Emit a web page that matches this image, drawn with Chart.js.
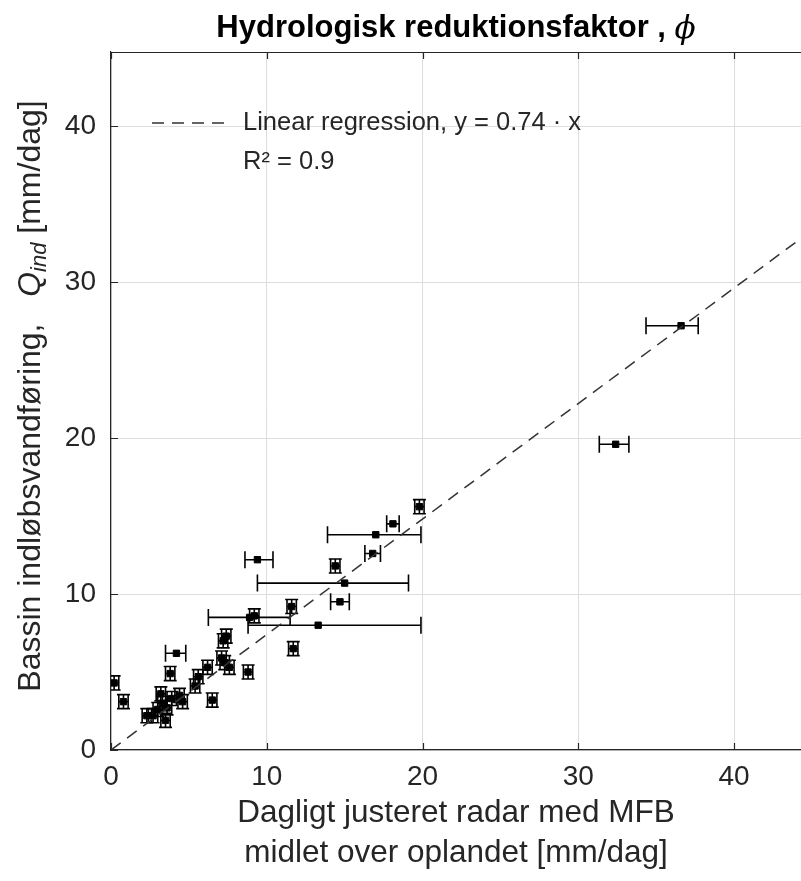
<!DOCTYPE html>
<html>
<head>
<meta charset="utf-8">
<script src="https://cdn.jsdelivr.net/npm/chart.js@4.4.1/dist/chart.umd.min.js"></script>
<style>
  html, body { margin: 0; padding: 0; background: #fff; }
</style>
</head>
<body>
<canvas id="reductionChart" width="801" height="881"></canvas>
<script>
// radar (x) vs inflow (y), mm/dag
const radarMfb = [36.6, 32.4, 19.8, 18.1, 17.0, 16.8, 14.4, 9.4, 15.0, 14.7,
                  11.6, 9.2, 8.9, 13.3, 11.7, 4.2, 0.2, 0.8, 7.2, 7.4,
                  7.1, 7.6, 6.2, 8.8, 5.6, 5.4, 6.5, 4.4, 4.6, 3.8,
                  3.2, 3.9, 2.3, 2.7, 3.0, 3.6, 3.5, 3.3, 7.3];
const inflow   = [27.2, 19.6, 15.6, 14.5, 13.8, 12.6, 11.8, 12.2, 10.7, 9.5,
                  9.2, 8.6, 8.5, 8.0, 6.5, 6.2, 4.3, 3.1, 7.0, 7.3,
                  5.9, 5.3, 5.3, 5.0, 4.7, 4.1, 3.2, 3.5, 3.1, 4.9,
                  3.6, 3.3, 2.2, 2.2, 2.6, 2.7, 1.9, 3.0, 5.6];
// error bar lengths
const radarErrLow  = [2.25, 1.05, 0.3, 0.4, 3.1, 0.5, 0.3, 0.8, 5.6, 0.6,
                      0.3, 0.3, 2.65, 4.5, 0.3, 0.7, 0.3, 0.3, 0.3, 0.3,
                      0.3, 0.3, 0.3, 0.3, 0.3, 0.3, 0.3, 0.3, 0.3, 0.3,
                      0.3, 0.3, 0.3, 0.3, 0.3, 0.3, 0.3, 0.3, 0.3];
const radarErrHigh = [1.1, 0.85, 0.3, 0.4, 2.9, 0.5, 0.3, 1.0, 4.1, 0.6,
                      0.3, 0.3, 2.6, 6.6, 0.3, 0.6, 0.3, 0.3, 0.3, 0.3,
                      0.3, 0.3, 0.3, 0.3, 0.3, 0.3, 0.3, 0.3, 0.3, 0.3,
                      0.3, 0.3, 0.3, 0.3, 0.3, 0.3, 0.3, 0.3, 0.3];
const inflowErr    = [0, 0, 0.45, 0, 0, 0, 0.45, 0, 0, 0,
                      0.45, 0.45, 0, 0, 0.45, 0, 0.45, 0.45, 0.45, 0.45,
                      0.45, 0.45, 0.45, 0.45, 0.45, 0.45, 0.45, 0.45, 0.45, 0.45,
                      0.45, 0.45, 0.45, 0.45, 0.45, 0.45, 0.45, 0.45, 0.45];

// regression line y = 0.74 x
const fitX = [0, 44.3];
const fitY = [0, 32.8];

const xTicks = [0, 10, 20, 30, 40];
const yTicks = [0, 10, 20, 30, 40];

const FONT = "'Liberation Sans', Arial, Helvetica, sans-serif";
const TEXT = "#262626";

/* ---- error bars, drawn under the markers ---- */
const errorBars = {
    id: "errorBars",
    beforeDatasetsDraw(chart) {
        const { ctx, chartArea: a, scales: { x, y } } = chart;
        ctx.save();
        ctx.beginPath();
        ctx.rect(a.left, a.top, a.right - a.left, a.bottom - a.top);
        ctx.clip();
        ctx.strokeStyle = "#000";
        ctx.lineWidth = 1.6;
        radarMfb.forEach((xv, i) => {
            const cap = inflowErr[i] > 0 ? 6.5 : 8.5;
            const px = x.getPixelForValue(xv);
            const py = y.getPixelForValue(inflow[i]);
            const x0 = x.getPixelForValue(xv - radarErrLow[i]);
            const x1 = x.getPixelForValue(xv + radarErrHigh[i]);
            ctx.beginPath();
            ctx.moveTo(x0, py); ctx.lineTo(x1, py);
            ctx.moveTo(x0, py - cap); ctx.lineTo(x0, py + cap);
            ctx.moveTo(x1, py - cap); ctx.lineTo(x1, py + cap);
            if (inflowErr[i] > 0) {
                const y0 = y.getPixelForValue(inflow[i] - inflowErr[i]);
                const y1 = y.getPixelForValue(inflow[i] + inflowErr[i]);
                ctx.moveTo(px, y0); ctx.lineTo(px, y1);
                ctx.moveTo(px - cap, y0); ctx.lineTo(px + cap, y0);
                ctx.moveTo(px - cap, y1); ctx.lineTo(px + cap, y1);
            }
            ctx.stroke();
        });
        ctx.restore();
    }
};

/* ---- box, inward ticks, title, labels, legend ---- */
const decorations = {
    id: "decorations",
    afterDraw(chart) {
        const { ctx, chartArea: a, scales: { x, y } } = chart;
        const tl = 7;
        ctx.save();

        // top edge of the box + inward ticks
        ctx.strokeStyle = TEXT;
        ctx.lineWidth = 1.2;
        ctx.beginPath();
        ctx.moveTo(a.left, a.top + 0.5); ctx.lineTo(a.right, a.top + 0.5);
        xTicks.forEach(v => {
            const px = Math.round(x.getPixelForValue(v)) + 0.5;
            ctx.moveTo(px, a.bottom); ctx.lineTo(px, a.bottom - tl);
            ctx.moveTo(px, a.top); ctx.lineTo(px, a.top + tl);
        });
        yTicks.forEach(v => {
            const py = Math.round(y.getPixelForValue(v)) + 0.5;
            ctx.moveTo(a.left, py); ctx.lineTo(a.left + tl, py);
        });
        ctx.stroke();

        // title
        const cx = (a.left + a.right) / 2;
        const phiFont = "italic 31px 'DejaVu Serif', 'Liberation Serif', serif";
        const titleFont = "bold 31px " + FONT;
        const t1 = "Hydrologisk reduktionsfaktor , ";
        ctx.fillStyle = "#000";
        ctx.textBaseline = "middle";
        ctx.textAlign = "left";
        ctx.font = phiFont;
        const phiW = ctx.measureText("\u03D5").width;
        ctx.font = titleFont;
        const t1W = ctx.measureText(t1).width;
        const tx = cx - (t1W + phiW) / 2;
        ctx.fillText(t1, tx, 28);
        ctx.font = phiFont;
        ctx.fillText("\u03D5", tx + t1W, 30);

        // x label (two lines)
        ctx.fillStyle = TEXT;
        ctx.font = "31.5px " + FONT;
        ctx.textAlign = "center";
        ctx.fillText("Dagligt justeret radar med MFB", cx, 813);
        ctx.fillText("midlet over oplandet [mm/dag]", cx, 853);

        // y label, rotated, with italic Q and subscript
        const cy = (a.top + a.bottom) / 2 - 5;
        const parts = [
            { s: "Bassin indløbsvandføring,   ", f: "32px " + FONT, dy: 0 },
            { s: "Q", f: "italic 32px " + FONT, dy: 0 },
            { s: "ind", f: "italic 22px " + FONT, dy: 9 },
            { s: " [mm/dag]", f: "32px " + FONT, dy: 0 }
        ];
        let total = 0;
        parts.forEach(p => { ctx.font = p.f; p.w = ctx.measureText(p.s).width; total += p.w; });
        ctx.translate(31, cy);
        ctx.rotate(-Math.PI / 2);
        ctx.textAlign = "left";
        let ox = -total / 2;
        parts.forEach(p => {
            ctx.font = p.f;
            ctx.fillText(p.s, ox, p.dy);
            ox += p.w;
        });
        ctx.setTransform(1, 0, 0, 1, 0, 0);

        // legend inside the axes
        ctx.strokeStyle = "#333";
        ctx.lineWidth = 1.5;
        ctx.setLineDash([12, 8]);
        ctx.beginPath();
        ctx.moveTo(152, 123); ctx.lineTo(232, 123);
        ctx.stroke();
        ctx.setLineDash([]);
        ctx.fillStyle = TEXT;
        ctx.font = "25.5px " + FONT;
        ctx.textAlign = "left";
        ctx.fillText("Linear regression, y = 0.74 \u00B7 x", 243, 123);
        ctx.fillText("R\u00B2 = 0.9", 243, 162);

        ctx.restore();
    }
};

new Chart(document.getElementById("reductionChart"), {
    type: "scatter",
    data: {
        datasets: [
            {
                label: "Linear regression",
                type: "line",
                data: fitX.map((v, i) => ({ x: v, y: fitY[i] })),
                borderColor: "#333",
                borderWidth: 1.5,
                borderDash: [12, 8],
                pointRadius: 0,
                fill: false
            },
            {
                label: "Målinger",
                data: radarMfb.map((v, i) => ({ x: v, y: inflow[i] })),
                pointStyle: "rect",
                pointRadius: 4.5,
                backgroundColor: "#000",
                borderColor: "#000",
                borderWidth: 1
            }
        ]
    },
    options: {
        responsive: false,
        animation: false,
        devicePixelRatio: 1,
        layout: {
            autoPadding: false,
            padding: { top: 52, left: 0, right: 0, bottom: 0 }
        },
        plugins: {
            legend: { display: false },
            tooltip: { enabled: false }
        },
        scales: {
            x: {
                type: "linear",
                min: 0,
                max: 44.3,
                afterBuildTicks: s => { s.ticks = xTicks.map(v => ({ value: v })); },
                afterFit: s => { s.height = 131; s.paddingLeft = 0; s.paddingRight = 0; },
                grid: { color: "#dedede", lineWidth: 1, drawTicks: false },
                border: { color: TEXT, width: 1.2 },
                ticks: {
                    color: TEXT,
                    padding: 10,
                    maxRotation: 0,
                    font: { family: FONT, size: 28 }
                }
            },
            y: {
                type: "linear",
                min: 0,
                max: 44.75,
                afterBuildTicks: s => { s.ticks = yTicks.map(v => ({ value: v })); },
                afterFit: s => { s.width = 111; s.paddingTop = 0; s.paddingBottom = 0; },
                grid: { color: "#dedede", lineWidth: 1, drawTicks: false },
                border: { color: TEXT, width: 1.2 },
                ticks: {
                    color: TEXT,
                    padding: 15,
                    font: { family: FONT, size: 28 }
                }
            }
        }
    },
    plugins: [errorBars, decorations]
});
</script>
</body>
</html>
